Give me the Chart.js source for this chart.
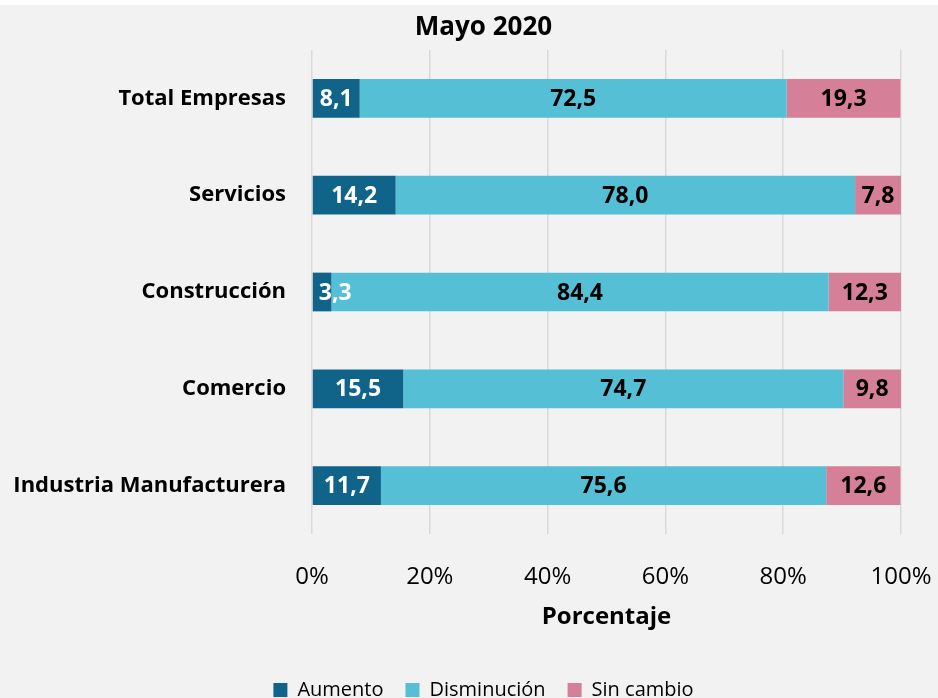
<!DOCTYPE html>
<html lang="es">
<head>
<meta charset="utf-8">
<title>Mayo 2020</title>
<script src="https://cdn.jsdelivr.net/npm/chart.js@4.4.1/dist/chart.umd.min.js"></script>
<style>
  html, body { margin: 0; padding: 0; background: #fff; overflow: hidden; }
  .marco {
    position: absolute; left: 0; top: 5px;
    width: 938px; height: 705px;
    background: #f2f2f2;
  }
</style>
</head>
<body>
<div class="marco"><canvas id="grafico" width="938" height="705"></canvas></div>
<script>
// Datos (porcentaje de empresas)
const categorias = ["Total Empresas", "Servicios", "Construcción", "Comercio", "Industria Manufacturera"];
const aumento = [8.1, 14.2, 3.3, 15.5, 11.7];
const disminucion = [72.5, 78.0, 84.4, 74.7, 75.6];
const sinCambio = [19.3, 7.8, 12.3, 9.8, 12.6];
const ticksX = [0, 20, 40, 60, 80, 100];

const fuente = "'Open Sans', 'Noto Sans', sans-serif";

function formatar(v) {
  return v.toFixed(1).replace(".", ",");
}

// etiquetas dentro de las barras
const etiquetas = {
  id: "etiquetas",
  afterLayout(chart) {
    // deja que las categorías largas no se recorten
    chart.scales.y.left = 0;
  },
  afterDatasetsDraw(chart) {
    const ctx = chart.ctx;
    ctx.save();
    ctx.font = "bold 23px " + fuente;
    ctx.textBaseline = "middle";
    ctx.textAlign = "center";

    chart.data.datasets.forEach((ds, i) => {
      const meta = chart.getDatasetMeta(i);
      meta.data.forEach((bar, j) => {
        const txt = formatar(ds.data[j]);
        const w = ctx.measureText(txt).width;
        const ini = Math.min(bar.base, bar.x);
        let x = (bar.base + bar.x) / 2;
        if (x - w / 2 < ini + 6) x = ini + 6 + w / 2;
        ctx.fillStyle = i === 0 ? "#ffffff" : "#000000";
        ctx.fillText(txt, x, bar.y + 1);
      });
    });
    ctx.restore();
  }
};

new Chart(document.getElementById("grafico"), {
  type: "bar",
  data: {
    labels: categorias,
    datasets: [
      { label: "Aumento", data: aumento, backgroundColor: "#10648a" },
      { label: "Disminución", data: disminucion, backgroundColor: "#55bfd6" },
      { label: "Sin cambio", data: sinCambio, backgroundColor: "#d57f99" }
    ]
  },
  options: {
    indexAxis: "y",
    responsive: false,
    animation: false,
    categoryPercentage: 0.8,
    barPercentage: 0.5,
    layout: { padding: { left: 66, right: 37, top: 0, bottom: 0 } },
    scales: {
      x: {
        stacked: true,
        min: 0,
        max: 100,
        afterBuildTicks(scale) {
          scale.ticks = ticksX.map(v => ({ value: v }));
        },
        afterFit(scale) {
          scale.height = 124;
          scale.paddingLeft = 0;
          scale.paddingRight = 0;
        },
        grid: { color: "#d9d9d9", lineWidth: 1.5, drawTicks: false },
        border: { display: false },
        ticks: {
          padding: 29,
          color: "#000",
          font: { family: fuente, size: 24 },
          callback: v => v + "%"
        },
        title: {
          display: true,
          text: "Porcentaje",
          color: "#000",
          font: { family: fuente, size: 24, weight: "bold" },
          padding: { top: 0, bottom: 26.6 }
        }
      },
      y: {
        stacked: true,
        afterFit(scale) {
          scale.width = 246;
        },
        grid: { display: false, drawTicks: false },
        border: { display: false },
        ticks: {
          padding: 26,
          color: "#000",
          font: { family: fuente, size: 22, weight: "bold" }
        }
      }
    },
    plugins: {
      title: {
        display: true,
        text: "Mayo 2020",
        color: "#000",
        font: { family: fuente, size: 26, weight: "bold" },
        padding: { top: 7.4, bottom: 6.4 }
      },
      legend: {
        position: "bottom",
        labels: {
          boxWidth: 14,
          boxHeight: 14,
          padding: 22,
          color: "#000",
          font: { family: fuente, size: 20 }
        }
      },
      tooltip: { enabled: false }
    }
  },
  plugins: [etiquetas]
});
</script>
</body>
</html>
